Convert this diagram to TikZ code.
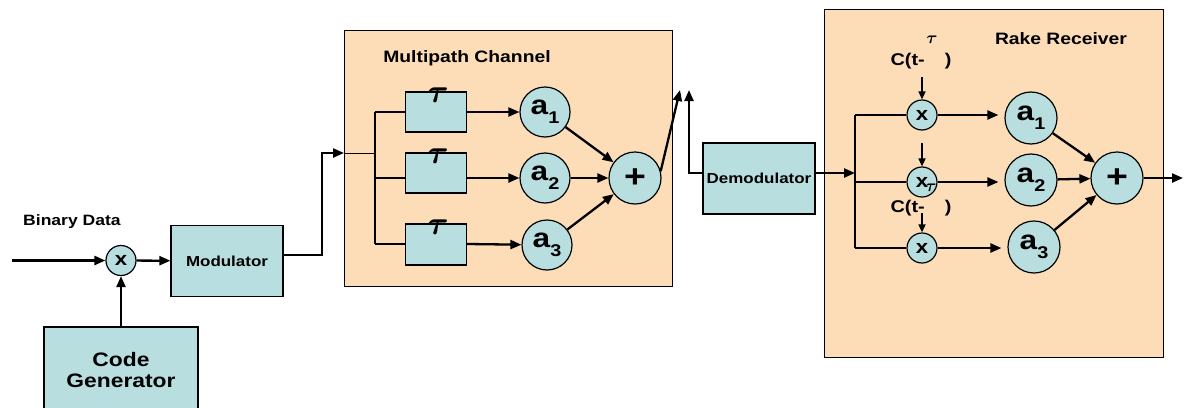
\documentclass[tikz,border=0pt]{standalone}
\usepackage{fontspec}
\setmainfont{Liberation Sans}[FakeStretch=1.17]
\usetikzlibrary{arrows.meta}
\definecolor{peach}{HTML}{FCDDB7}
\definecolor{cyanbox}{HTML}{B8DEE0}
\newcommand\fsz[1]{\fontsize{#1}{#1}\selectfont}
\newcommand\lowidx[1]{\raisebox{-0.32em}{\fsz{17}#1}}
\newcommand\bigtau[1]{\scalebox{#1}{\fsz{10}\boldmath$\tau$}}
\tikzset{
  panel/.style={draw, fill=peach, line width=1pt, inner sep=0pt},
  blk/.style={draw, fill=cyanbox, line width=1.2pt, inner sep=0pt, align=center},
  dot/.style={circle, draw, fill=cyanbox, line width=1.2pt, inner sep=0pt},
  wire/.style={line width=2.3pt},
  thinwire/.style={line width=1pt},
  flow/.style={wire, -{Triangle[length=11pt,width=9pt]}},
  tick/.style={line width=1.6pt, -{Triangle[length=8pt,width=7pt]}},
  lbl/.style={inner sep=0pt, font=\bfseries\fsz{15}},
  ttl/.style={inner sep=0pt, font=\bfseries\fsz{16.5}},
  taulbl/.style={inner sep=0pt},
  coef/.style={dot, font=\bfseries\fsz{27}},
  mult/.style={dot, minimum size=30pt, font=\bfseries\fsz{19}},
  summer/.style={dot, minimum size=52pt, font=\bfseries\fsz{32}},
}
\begin{document}
\begin{tikzpicture}[x=1pt,y=-1pt]
\useasboundingbox (0,0) rectangle (1186,407);
\clip (0,0) rectangle (1186,407);

% ---- transmitter ----
\node[lbl, anchor=west] (bin) at (23,222) {Binary Data};
\node[mult] (mix) at (121,260.5) {x};
\node[blk, minimum width=112pt, minimum height=71pt, font=\bfseries\fsz{14.5}] (mod) at (227,261) {Modulator};
\node[blk, minimum width=154pt, minimum height=86pt, font=\bfseries\fsz{19.5}] (code) at (121,370) {Code\\[2pt]Generator};
\coordinate (din) at (12,260.5);
\draw[flow] (din) -- (mix);
\draw[flow] (code.north) -- (mix.south);
\draw[flow] (mix) -- (mod);

% ---- multipath channel ----
\node[panel, minimum width=328pt, minimum height=256pt] (chan) at (508,158) {};
\node[ttl] (chant) at (467,58) {Multipath Channel};
\coordinate (chin) at (344,153);
\coordinate (cbm) at (375,153);
\coordinate (cb1) at (375,112);
\coordinate (cb2) at (375,178);
\coordinate (cb3) at (375,244);
\draw[flow] ([yshift=6pt]mod.east) -| (322,153) -- (chin);
\draw[thinwire] (chin) -- (cbm);
\draw[line width=1.5pt] (cb1) -- (cb3);

\node[blk, minimum width=61pt, minimum height=40pt] (t1) at (436,112) {};
\node[blk, minimum width=61pt, minimum height=40pt] (t2) at (436,173) {};
\node[blk, minimum width=61pt, minimum height=41pt] (t3) at (436,244.5) {};
\node[taulbl] (tl1) at (438,95) {\bigtau{3.3}};
\node[taulbl] (tl2) at (438,156) {\bigtau{3.3}};
\node[taulbl] (tl3) at (438,227) {\bigtau{3.3}};

\node[coef, minimum size=50pt] (a1) at (545,112) {a\lowidx{1}};
\node[coef, minimum size=50pt] (a2) at (545,178) {a\lowidx{2}};
\node[coef, minimum size=50pt] (a3) at (547,245) {a\lowidx{3}};
\node[summer] (p1) at (635,178) {+};

\draw[wire] (cb1) -- (t1);
\draw[wire] (cb2) -- (t2.west |- cb2);
\draw[wire] (cb3) -- (t3.west |- cb3);
\draw[flow] (t1) -- (a1);
\draw[flow] (t2.east |- cb2) -- (a2);
\draw[flow] (t3.east |- cb3) -- (a3);
\draw[flow] (a1) -- (p1);
\draw[flow] (a2) -- (p1);
\draw[flow] (a3) -- (p1);

% ---- link to the receiver ----
\node[blk, minimum width=112pt, minimum height=71pt, font=\bfseries\fsz{14.5}] (demod) at (759,178.5) {Demodulator};
\coordinate (up1) at (680,90);
\coordinate (up2) at (689,90);
\coordinate (dl) at (689,173);
\draw[flow] (p1.15) -- (up1);
\draw[flow] (demod.west |- dl) -- (dl) -- (up2);

% ---- rake receiver ----
\node[panel, minimum width=339pt, minimum height=348pt] (rake) at (993.5,183) {};
\node[ttl] (raket) at (1061,39) {Rake Receiver};
\coordinate (rb) at (855,173);
\coordinate (rb1) at (855,115);
\coordinate (rb2) at (855,182);
\coordinate (rb3) at (855,248);
\draw[flow] (demod.east |- rb) -- (rb);
\draw[wire] (rb1) -- (rb3);

\node[mult] (m1) at (922,115) {x};
\node[mult] (m2) at (922,182) {x};
\node[mult] (m3) at (922,248) {x};
\node[coef, minimum size=52pt] (b1) at (1031,118) {a\lowidx{1}};
\node[coef, minimum size=52pt] (b2) at (1031,180) {a\lowidx{2}};
\node[coef, minimum size=52pt] (b3) at (1034,247) {a\lowidx{3}};
\node[summer] (p2) at (1117,178) {+};

\draw[wire] (rb1) -- (m1);
\draw[wire] (rb2) -- (m2);
\draw[wire] (rb3) -- (m3);
\draw[flow, shorten >=6pt] (m1) -- (b1.west |- m1);
\draw[flow, shorten >=6pt] (m2) -- (b2.west |- m2);
\draw[flow, shorten >=6pt] (m3) -- (b3.west |- m3);
\draw[flow] (b1) -- (p2);
\draw[flow] (b2) -- (p2);
\draw[flow] (b3) -- (p2);
\coordinate (rout) at (1183,178);
\draw[flow] (p2) -- (rout);

% code replicas fed to the correlators
\coordinate (c1) at (922,77);
\coordinate (c2) at (922,143);
\coordinate (c3) at (922,213);
\draw[tick] (c1) -- (m1);
\draw[tick] (c2) -- (m2);
\draw[tick] (c3) -- (m3);
\node[inner sep=0pt, font=\bfseries\fsz{17}] (cl1) at (921,61) {C(t-\hspace{20pt})};
\node[inner sep=0pt, font=\bfseries\fsz{17}] (cl2) at (921,208) {C(t-\hspace{20pt})};
\node[taulbl] (ct1) at (932,40) {\bigtau{1.7}};
\node[taulbl] (ct2) at (931,188) {\bigtau{1.7}};
\end{tikzpicture}
\end{document}
